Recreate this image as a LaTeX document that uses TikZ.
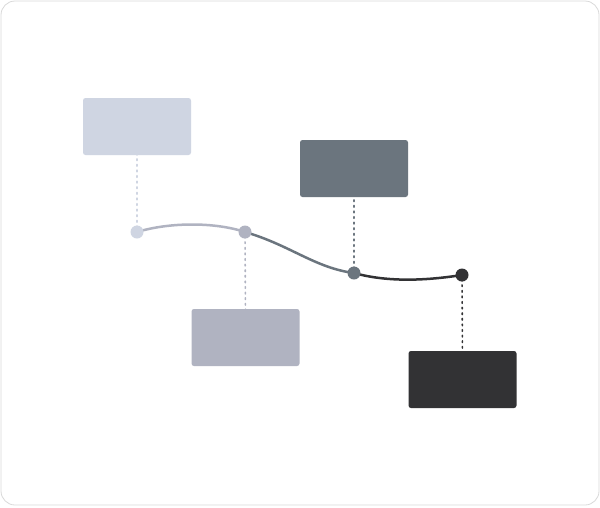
\documentclass[tikz,border=0pt]{standalone}
\begin{document}
\begin{tikzpicture}[x=1pt,y=-1pt,
  card/.style={rounded corners=2.5pt,minimum width=108pt,minimum height=57pt,inner sep=0pt},
  pt/.style={circle,inner sep=0pt,minimum size=13pt},
  lead/.style={line width=1.6pt,dash pattern=on 1.6pt off 4pt,line cap=round}]
\definecolor{cA}{HTML}{CFD5E2}\definecolor{cB}{HTML}{B0B3C1}
\definecolor{cC}{HTML}{6B757E}\definecolor{cD}{HTML}{323234}
\useasboundingbox (0,0) rectangle (600,507);
\draw[draw=black!15,fill=white,rounded corners=14pt,line width=0.8pt] (1,1) rectangle (599,505);
\node[card,fill=cA] (b1) at (137,126.5) {};
\node[card,fill=cC] (b2) at (354,168.5) {};
\node[card,fill=cB] (b3) at (245.5,337.5) {};
\node[card,fill=cD] (b4) at (462.5,379.5) {};
\draw[cB,line width=2.5pt] (137,232) .. controls (170,222) and (215,222) .. (245,232);
\draw[cC,line width=2.5pt] (245,232) .. controls (290,245) and (315,268) .. (354,273);
\draw[cD,line width=2.5pt] (354,273) .. controls (390,283) and (430,280) .. (462,275);
\node[pt,fill=cA] (p1) at (137,232) {};
\node[pt,fill=cB] (p2) at (245,232) {};
\node[pt,fill=cC] (p3) at (354,273) {};
\node[pt,fill=cD] (p4) at (462,275) {};
\draw[lead,cA] ([yshift=-8pt]p1.north) -- ([yshift=15pt]b1.south);
\draw[lead,cB] ([yshift=8pt]p2.south) -- ([yshift=-9pt]b3.north);
\draw[lead,cC] ([yshift=-8pt]p3.north) -- ([yshift=15pt]b2.south);
\draw[lead,cD] ([yshift=8pt]p4.south) -- ([yshift=-9pt]b4.north);
\end{tikzpicture}
\end{document}
